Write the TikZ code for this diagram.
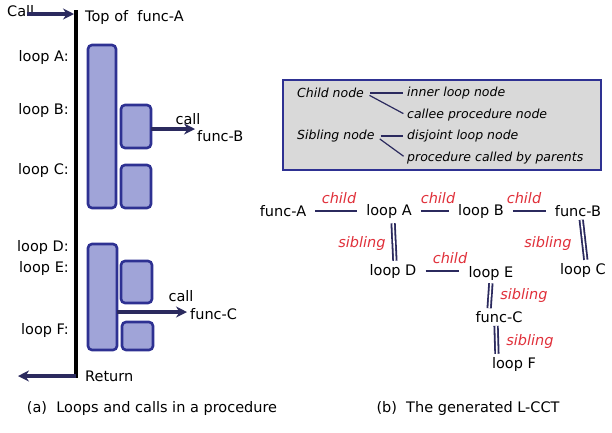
\documentclass[tikz,border=0pt]{standalone}
\usepackage{fontspec}
\setmainfont{DejaVu Sans}
\usetikzlibrary{positioning,arrows.meta}
\definecolor{lblue}{HTML}{A0A4D8}
\definecolor{dblue}{HTML}{2E3192}
\definecolor{arrowc}{HTML}{2B2A5E}
\definecolor{lred}{HTML}{E0303A}
\begin{document}
\begin{tikzpicture}[x=1pt,y=-1pt,
	every node/.style={font=\fontsize{14.5}{16}\selectfont,inner sep=1pt},
	loopbox/.style={draw=dblue,fill=lblue,line width=2.6pt,rounded corners=4pt},
	callarrow/.style={-{Stealth[length=11pt,width=11pt]},line width=3.5pt,arrowc},
	lbl/.style={anchor=east},
	tag/.style={lred,font=\fontsize{14.5}{16}\selectfont\itshape},
	note/.style={font=\fontsize{12.5}{14}\selectfont\itshape,anchor=west},
	child/.style={draw=arrowc,line width=1.6pt,shorten <=8pt,shorten >=8pt},
	sibling/.style={draw=arrowc,double=white,double distance=1.6pt,line width=1.8pt,shorten <=2pt,shorten >=2pt}]
	\useasboundingbox (0,0) rectangle (612,432);
	% (a) the procedure
	\coordinate (top) at (76,10);
	\coordinate (bot) at (76,378);
	\draw[line width=4pt] (top) -- (bot);
	\node (CALL) [anchor=south west] at (6,18) {Call};
	\coordinate (callin) at (27,14);
	\draw[callarrow] (callin) -- (74,14);
	\node (TOP) [anchor=west] at (84,17) {Top of \ func-A};
	\node[lbl] (LA) at (70,57)  {loop A:};
	\node[lbl] (LB) at (70,110) {loop B:};
	\node[lbl] (LC) at (70,170) {loop C:};
	\node[lbl] (LD) at (70,247) {loop D:};
	\node[lbl] (LE) at (70,268) {loop E:};
	\node[lbl] (LF) at (70,330) {loop F:};
	\draw[loopbox] (88,45) rectangle (116,208);
	\draw[loopbox] (121,105) rectangle (151,148);
	\draw[loopbox] (121,165) rectangle (151,208);
	\draw[loopbox] (88,244) rectangle (117,350);
	\draw[loopbox] (121,261) rectangle (152,303);
	\draw[loopbox] (122,322) rectangle (153,350);
	\coordinate (outB) at (151,129);
	\draw[callarrow] (outB) -- (195,129);
	\node (CB) at (188,119) {call};
	\node (FB) [anchor=west] at (196,136) {func-B};
	\coordinate (outC) at (117,312);
	\draw[callarrow] (outC) -- (187,312);
	\node (CC) at (181,296) {call};
	\node (FC) [anchor=west] at (189,314) {func-C};
	\coordinate (retout) at (18,376);
	\draw[callarrow] (bot |- 0,376) -- (retout);
	\node (RET) [anchor=west] at (84,376) {Return};
	\node (CAPA) at (152,408) {(a)\ \ Loops and calls in a procedure};
	% (b) the L-CCT
	\draw[dblue,line width=2.6pt,fill=black!15] (283,80) rectangle (601,170);
	\node[note] (N1) at (296,93)  {Child node};
	\node[note] (N2) at (406,93)  {inner loop node};
	\node[note] (N3) at (406,115) {callee procedure node};
	\node[note] (N4) at (296,136) {Sibling node};
	\node[note] (N5) at (406,136) {disjoint loop node};
	\node[note] (N6) at (406,158) {procedure called by parents};
	\draw[arrowc,line width=1.2pt,shorten <=5pt,shorten >=3pt] (N1.east) -- (N2.west);
	\draw[arrowc,line width=1.2pt,shorten <=5pt,shorten >=3pt] (N1.east) -- (N3.west);
	\draw[arrowc,line width=1.2pt,shorten <=5pt,shorten >=3pt] (N4.east) -- (N5.west);
	\draw[arrowc,line width=1.2pt,shorten <=5pt,shorten >=3pt] (N4.east) -- (N6.west);
	\node (FA)  at (283,211) {func-A};
	\node (LPA) at (389,211) {loop A};
	\node (LPB) at (481,211) {loop B};
	\node (FNB) at (578,211) {func-B};
	\node (LPD) at (393,271) {loop D};
	\node (LPE) at (491,273) {loop E};
	\node (LPC) at (583,270) {loop C};
	\node (FNC) at (499,317) {func-C};
	\node (LPF) at (514,364) {loop F};
	\draw[child] (FA) -- (LPA);
	\draw[child] (LPA) -- (LPB);
	\draw[child] (LPB) -- (FNB);
	\draw[child] (LPD) -- (LPE.west |- LPD);
	\draw[sibling] (LPA.south) ++(4,2) -- ([xshift=2pt]LPD.north);
	\draw[sibling] ([xshift=3pt]FNB.south) -- ([xshift=3pt]LPC.north);
	\draw[sibling] (LPE.south) -- ([xshift=-10pt]FNC.north);
	\draw[sibling] ([xshift=-3pt]FNC.south) -- ([xshift=-17pt]LPF.north);
	\node[tag] (T1) at (339,198) {child};
	\node[tag] (T2) at (438,198) {child};
	\node[tag] (T3) at (524,198) {child};
	\node[tag] (T4) at (450,258) {child};
	\node[tag] (T5) at (362,243) {sibling};
	\node[tag] (T6) at (548,243) {sibling};
	\node[tag] (T7) at (524,295) {sibling};
	\node[tag] (T8) at (530,341) {sibling};
	\node (CAPB) at (468,408) {(b)\ \ The generated L-CCT};
\end{tikzpicture}
\end{document}
